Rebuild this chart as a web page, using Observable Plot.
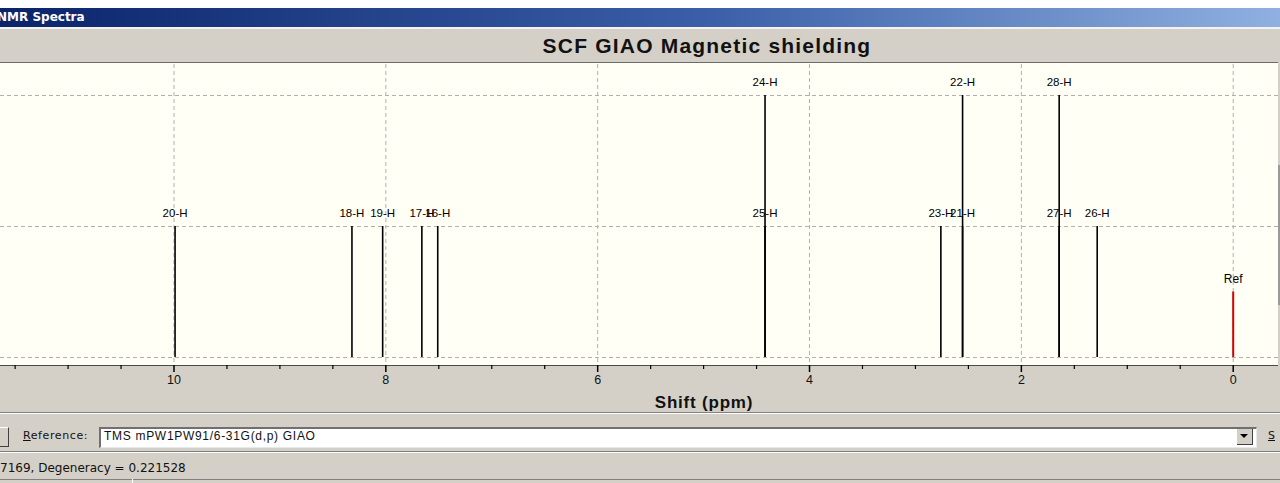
<!DOCTYPE html>
<html>
<head>
<meta charset="utf-8">
<script src="https://cdn.jsdelivr.net/npm/d3@7"></script>
<script src="https://cdn.jsdelivr.net/npm/@observablehq/plot@0.6"></script>
<style>
  html, body { margin: 0; padding: 0; background: #fff; }
  #win { position: relative; width: 1280px; height: 483px; overflow: hidden; background: #D4D0C8; font-family: "Liberation Sans", "DejaVu Sans", sans-serif; }
  .abs { position: absolute; }
</style>
</head>
<body>
<div id="win">
  <div class="abs" style="left:0;top:0;width:1280px;height:8px;background:#fff;"></div>
  <div class="abs" style="left:0;top:8px;width:1280px;height:19px;background:linear-gradient(to right,#0A246A 0%,#3A5FA8 55%,#8FB0E0 100%);"></div>
  <div class="abs" style="left:-3px;top:9px;color:#fff;font:bold 12px 'DejaVu Sans',sans-serif;line-height:17px;">NMR Spectra</div>
  <div class="abs" style="left:0;top:27px;width:1280px;height:2px;background:#f4f3ee;"></div>
  <div class="abs" id="title" style="left:0;top:34px;width:1414px;text-align:center;font:bold 21px 'Liberation Sans',Arial,sans-serif;color:#111;letter-spacing:1.2px;">SCF GIAO Magnetic shielding</div>
  <div class="abs" style="left:0;top:62px;width:1278px;height:302px;background:#FFFFF6;border-top:1px solid #6b6b6b;border-bottom:1px solid #4a4a4a;"></div>
  <div class="abs" style="left:1278px;top:165px;width:2px;height:140px;background:#9a9a9a;"></div>
  <div class="abs" id="plot" style="left:0;top:64px;"></div>
  <div class="abs" style="left:0;top:393px;width:1408px;text-align:center;font:bold 17px 'Liberation Sans',Arial,sans-serif;color:#111;letter-spacing:0.8px;">Shift (ppm)</div>
  <div class="abs" style="left:0;top:412px;width:1280px;height:1px;background:#808080;"></div>
  <div class="abs" style="left:0;top:413px;width:1280px;height:1px;background:#fff;"></div>
  <div class="abs" style="left:-10px;top:427px;width:17px;height:18px;background:#D4D0C8;border:1px solid #404040;border-top-color:#fff;border-left-color:#fff;"></div>
  <div class="abs" style="left:23px;top:429px;font:11px 'DejaVu Sans',sans-serif;color:#111;letter-spacing:0.6px;"><u>R</u>eference:</div>
  <div class="abs" style="left:99px;top:427px;width:1155px;height:18px;background:#fff;border-top:2px solid #707070;border-left:2px solid #707070;border-bottom:1px solid #e8e8e8;border-right:1px solid #e8e8e8;"></div>
  <div class="abs" style="left:104px;top:429px;font:12px 'Liberation Sans',Arial,sans-serif;color:#111;letter-spacing:0.7px;">TMS mPW1PW91/6-31G(d,p) GIAO</div>
  <div class="abs" style="left:1237px;top:429px;width:15px;height:15px;background:#D4D0C8;border-right:1px solid #404040;border-bottom:1px solid #404040;"></div>
  <div class="abs" style="left:1240px;top:434px;width:0;height:0;border-left:4px solid transparent;border-right:4px solid transparent;border-top:4px solid #000;"></div>
  <div class="abs" style="left:1268px;top:429px;font:11px 'DejaVu Sans',sans-serif;color:#111;"><u>S</u></div>
  <div class="abs" style="left:0;top:451px;width:1280px;height:1px;background:#808080;"></div>
  <div class="abs" style="left:0;top:452px;width:1280px;height:1px;background:#fff;"></div>
  <div class="abs" style="left:0;top:461px;font:12px 'DejaVu Sans',sans-serif;color:#111;">7169, Degeneracy = 0.221528</div>
  <div class="abs" style="left:0;top:479px;width:1280px;height:1px;background:#808080;"></div>
  <div class="abs" style="left:132px;top:479px;width:1px;height:4px;background:#fff;"></div>
</div>
<script>
// --- data ---
const labels  = ["20-H", "18-H", "19-H", "17-H", "16-H", "24-H", "25-H", "23-H", "22-H", "21-H", "28-H", "27-H", "26-H"];
const shifts  = [9.99, 8.32, 8.03, 7.66, 7.51, 4.42, 4.42, 2.76, 2.555, 2.555, 1.643, 1.643, 1.284];
const heights = [1, 1, 1, 1, 1, 2, 1, 1, 2, 1, 2, 1, 1];
const refLabel = "Ref";
const refShift = 0;
const refHeight = 0.5;
const majorTicks = [10, 8, 6, 4, 2, 0];
const minorTicks = [11.5, 11, 10.5, 9.5, 9, 8.5, 7.5, 7, 6.5, 5.5, 5, 4.5, 3.5, 3, 2.5, 1.5, 1, 0.5];
const yGrid = [0, 1, 2];

const peaks = labels.map((l, i) => ({label: l, shift: shifts[i], height: heights[i]}));
const ref = [{label: refLabel, shift: refShift, height: refHeight}];

const chart = Plot.plot({
  width: 1280,
  height: 348,
  marginTop: 0,
  marginBottom: 47,
  marginLeft: 0,
  marginRight: 2,
  style: {background: "transparent", fontFamily: "'Liberation Sans', Arial, sans-serif", overflow: "visible"},
  x: {domain: [10, 0], range: [173.5, 1232.7]},
  y: {domain: [0, 2], range: [293, 31], axis: null},
  marks: [
    Plot.ruleX(majorTicks, {stroke: "#b0b0b0", strokeDasharray: "4,3", strokeWidth: 1}),
    Plot.ruleY(yGrid, {stroke: "#b0b0b0", strokeDasharray: "4,3", strokeWidth: 1}),
    Plot.ruleX(peaks, {x: "shift", y1: 0, y2: "height", stroke: "#000", strokeWidth: 1.6}),
    Plot.ruleX(ref, {x: "shift", y1: 0, y2: "height", stroke: "#d40000", strokeWidth: 2}),
    Plot.text(peaks, {x: "shift", y: "height", text: "label", dy: -13, fontSize: 11.5, fill: "#000"}),
    Plot.text(ref, {x: "shift", y: "height", text: "label", dy: -13, fontSize: 12, fill: "#000"}),
    Plot.axisX(minorTicks, {tickSize: 4, tickFormat: () => "", stroke: "#000", strokeWidth: 1.2, label: null}),
    Plot.axisX(majorTicks, {tickSize: 7, tickPadding: 3, tickFormat: d => String(d), fontSize: 12.5, stroke: "#000", strokeWidth: 1.5, fill: "#111", label: null})
  ]
});
document.getElementById("plot").appendChild(chart);
</script>
</body>
</html>
